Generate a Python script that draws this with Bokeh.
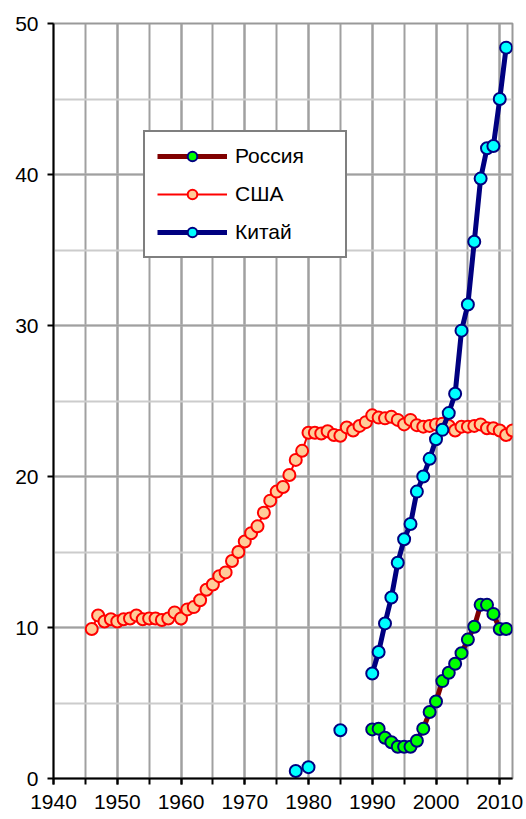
import math
from bokeh.plotting import figure
from bokeh.models import Range1d, SingleIntervalTicker, Legend, LegendItem
from bokeh.embed import file_html
from bokeh.resources import INLINE

NAN = float("nan")

# ---- data ----
russia_years = list(range(1990, 2012))
russia_values = [3.25, 3.3, 2.7, 2.4, 2.1, 2.1, 2.1, 2.5, 3.3, 4.4, 5.1,
                 6.45, 7.0, 7.6, 8.3, 9.2, 10.05, 11.5, 11.5, 10.9, 9.9, 9.9]

usa_years = list(range(1946, 2013))
usa_values = [9.9, 10.8, 10.4, 10.55, 10.4, 10.55, 10.6, 10.8, 10.55, 10.6,
              10.6, 10.5, 10.6, 11.0, 10.6, 11.2, 11.35, 11.8, 12.5, 12.85,
              13.4, 13.65, 14.4, 15.0, 15.7, 16.25, 16.7, 17.6, 18.4, 19.0,
              19.3, 20.1, 21.1, 21.7, 22.9, 22.9, 22.85, 23.0, 22.75, 22.7,
              23.25, 23.05, 23.35, 23.6, 24.05, 23.9, 23.85, 23.95, 23.75, 23.45,
              23.75, 23.4, 23.3, 23.35, 23.45, 23.5, 23.35, 23.05, 23.3, 23.3,
              23.35, 23.45, 23.2, 23.2, 23.05, 22.75, 23.05]

# gaps (missing years) are NaN so the line is broken there
china_years = [1978, 1979, 1980, 1981, 1985, 1986] + list(range(1990, 2012))
china_values = [0.5, NAN, 0.75, NAN, 3.2, NAN,
                6.95, 8.38, 10.27, 11.99, 14.29, 15.84, 16.85, 19.0, 20.0, 21.17,
                22.47, 23.09, 24.2, 25.48, 29.66, 31.39, 35.55, 39.73, 41.74,
                41.89, 45.0, 48.4]

labels = ["Россия", "США", "Китай"]

FONT = "Liberation Sans"

p = figure(width=526, height=819, output_backend="svg", toolbar_location=None,
           x_range=Range1d(1940, 2012), y_range=Range1d(0, 50),
           min_border_left=53, min_border_right=14, min_border_top=23,
           min_border_bottom=41)

p.background_fill_color = "white"
p.border_fill_color = "white"
p.outline_line_color = "#999999"
p.outline_line_width = 2

xt = SingleIntervalTicker(interval=10, num_minor_ticks=2)
yt = SingleIntervalTicker(interval=10, num_minor_ticks=2)
p.xaxis.ticker = xt
p.yaxis.ticker = yt
p.xgrid.ticker = xt
p.ygrid.ticker = yt

p.xgrid.grid_line_color = "#a0a0a0"
p.xgrid.grid_line_width = 2
p.xgrid.minor_grid_line_color = "#a0a0a0"
p.xgrid.minor_grid_line_width = 2
p.ygrid.grid_line_color = "#a0a0a0"
p.ygrid.grid_line_width = 2
p.ygrid.minor_grid_line_color = "#cccccc"
p.ygrid.minor_grid_line_width = 2

for ax in (p.xaxis[0], p.yaxis[0]):
    ax.axis_line_color = "black"
    ax.axis_line_width = 2
    ax.major_tick_line_color = "black"
    ax.major_tick_line_width = 2
    ax.major_tick_out = 6
    ax.major_tick_in = 0
    ax.major_label_text_font = FONT
    ax.major_label_text_font_size = "21px"
    ax.major_label_text_color = "black"
p.xaxis.major_label_standoff = 10
p.yaxis.major_label_standoff = 9

p.xaxis.minor_tick_line_color = "black"
p.xaxis.minor_tick_line_width = 2
p.xaxis.minor_tick_out = 6
p.xaxis.minor_tick_in = 0
p.yaxis.minor_tick_line_color = None

# Russia
r_line = p.line(russia_years, russia_values, line_color="#800000", line_width=5)
r_pts = p.scatter(russia_years, russia_values, marker="circle", size=12,
                  fill_color="#00ff00", line_color="#000080", line_width=2)
# USA
u_line = p.line(usa_years, usa_values, line_color="#ff0000", line_width=2)
u_pts = p.scatter(usa_years, usa_values, marker="circle", size=12,
                  fill_color="#ffcc99", line_color="#ff0000", line_width=2)
# China
c_line = p.line(china_years, china_values, line_color="#000080", line_width=5)
c_pts = p.scatter(china_years, china_values, marker="circle", size=12,
                  fill_color="#00ffff", line_color="#000080", line_width=2)

legend = Legend(items=[
    LegendItem(label=labels[0], renderers=[r_line, r_pts]),
    LegendItem(label=labels[1], renderers=[u_line, u_pts]),
    LegendItem(label=labels[2], renderers=[c_line, c_pts]),
], location=(90, 520))
legend.label_text_font = FONT
legend.label_text_font_size = "21px"
legend.label_text_color = "black"
legend.glyph_width = 70
legend.glyph_height = 24
legend.label_width = 98
legend.label_standoff = 8
legend.spacing = 14
legend.padding = 12
legend.margin = 0
legend.border_line_color = "black"
legend.border_line_width = 2
legend.background_fill_color = "white"
legend.background_fill_alpha = 1.0
p.add_layout(legend, "center")

open("out.html", "w").write(file_html(p, INLINE))
